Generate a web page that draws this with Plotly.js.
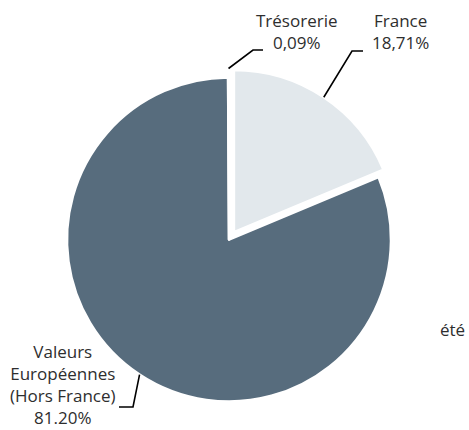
<!DOCTYPE html>
<html>
<head>
<meta charset="utf-8">
<script src="https://cdn.plot.ly/plotly-3.0.1.min.js"></script>
<style>html,body{margin:0;padding:0;background:#fff;}#chart{width:469px;height:430px;}</style>
</head>
<body>
<div id="chart"></div>
<script>
// ---- data ----
const categories = ['France', 'Valeurs Européennes (Hors France)', 'Trésorerie'];
const values = [18.71, 81.20, 0.09];
const labelLines = [['France'], ['Valeurs', 'Européennes', '(Hors France)'], ['Trésorerie']];
const pctLabels = ['18,71%', '81.20%', '0,09%'];
const strayText = 'été';

// ---- styling / layout ----
const W = 469, H = 430;
const colors = ['#e2e8ec', '#576c7d', '#576c7d'];
const pulls = [0.055, 0, 0];
const cx = 229, cy = 239.5, R = 162;           // pie centre / radius in pixels
const maxPull = Math.max.apply(null, pulls);
const side = 2 * R * (1 + maxPull);
const px = x => x / W, py = y => 1 - y / H;

// label placement (pixels): text block centre x, block bottom y, leader elbow, leader end, anchor extra radius
const labelPos = [
  {x: 400, bottom: 55, elbow: [352, 51], end: [363, 51], extra: 0},
  {x: 63,  bottom: 430, elbow: [133, 407], end: [119, 407], extra: 0},
  {x: 296, bottom: 55, elbow: [253, 50], end: [263, 50], extra: 9}
];

const font = {family: 'Open Sans, Noto Sans, sans-serif', size: 17, color: '#2e2e2e'};

const total = values.reduce((a, b) => a + b, 0);
const annotations = [];
const shapes = [];
let cum = 0;
values.forEach((v, i) => {
  const mid = (cum + v / 2) / total;
  cum += v;
  const th = 2 * Math.PI * mid;
  const s = Math.sin(th), c = -Math.cos(th);
  const ox = cx + pulls[i] * R * s, oy = cy + pulls[i] * R * c;
  const ax = ox + (R + labelPos[i].extra) * s, ay = oy + (R + labelPos[i].extra) * c;
  const lp = labelPos[i];
  shapes.push({
    type: 'path', xref: 'paper', yref: 'paper',
    path: 'M' + px(ax) + ',' + py(ay) + ' L' + px(lp.elbow[0]) + ',' + py(lp.elbow[1]) + ' L' + px(lp.end[0]) + ',' + py(lp.end[1]),
    line: {color: '#000', width: 1.6}
  });
  annotations.push({
    xref: 'paper', yref: 'paper', showarrow: false, borderpad: 0,
    x: px(lp.x), y: py(lp.bottom), xanchor: 'center', yanchor: 'bottom', align: 'center',
    text: labelLines[i].concat([pctLabels[i]]).join('<br>'), font: font
  });
});
annotations.push({xref: 'paper', yref: 'paper', showarrow: false, x: px(452), y: py(329),
  xanchor: 'center', yanchor: 'middle', text: strayText, font: font});

const trace = {
  type: 'pie', values: values, labels: categories, sort: false, direction: 'clockwise', rotation: 0,
  pull: pulls, textinfo: 'none', hoverinfo: 'skip', showlegend: false,
  marker: {colors: colors, line: {color: '#ffffff', width: 2.5}},
  domain: {x: [px(cx - side / 2), px(cx + side / 2)], y: [py(cy + side / 2), py(cy - side / 2)]}
};

Plotly.newPlot('chart', [trace], {
  width: W, height: H, margin: {l: 0, r: 0, t: 0, b: 0},
  paper_bgcolor: '#fff', plot_bgcolor: '#fff', showlegend: false,
  annotations: annotations, shapes: shapes
}, {displayModeBar: false, staticPlot: true});
</script>
</body>
</html>
